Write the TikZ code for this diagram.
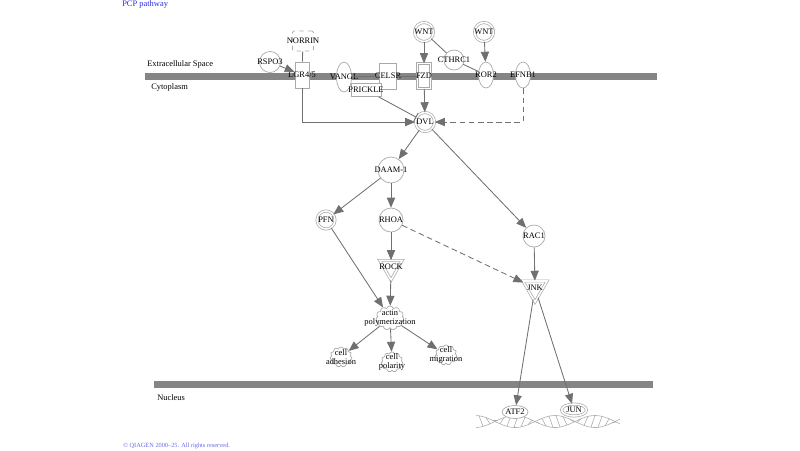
\documentclass[tikz,border=0pt]{standalone}
\usepackage{fontspec}
\setmainfont{Liberation Serif}
\usepackage{tikz}
\usetikzlibrary{shapes.geometric, shapes.symbols, arrows}

\definecolor{bargray}{HTML}{858585}
\definecolor{linegray}{HTML}{707070}
\definecolor{nodegray}{HTML}{AAAAAA}
\definecolor{ipablue}{HTML}{2828E6}

\tikzset{
  mol/.style={draw=nodegray, fill=white, inner sep=0pt, line width=0.5pt},
  dbl/.style={double=white, double distance=1.1pt},
  gene/.style={mol, circle},
  func/.style={mol, cloud, cloud puffs=11, aspect=1.1},
  downtri/.style={mol, dbl, regular polygon, regular polygon sides=3, shape border rotate=180},
  rel/.style={-, draw=linegray, line width=0.6pt},
  act/.style={->, draw=linegray, line width=0.6pt},
  inh/.style={-|, draw=linegray, line width=0.6pt},
  dsh/.style={dash pattern=on 4pt off 2.5pt},
  every label/.style={font=\fontsize{6}{6}\selectfont, inner sep=0pt, text=black, align=center},
  txt/.style={font=\fontsize{6}{6}\selectfont, inner sep=0pt, anchor=west}
}

\begin{document}
\begin{tikzpicture}[x=0.025cm, y=-0.025cm, >=triangle 45]
    \useasboundingbox (0,0) rectangle (800,450);

    % membranes
    \fill[bargray] (145,73) rectangle (657,80);
    \fill[bargray] (154,381) rectangle (653,388);
    \node[txt, text=ipablue] (title) at (122,4) {PCP pathway};
    \node[txt] (ecs) at (147,64) {Extracellular Space};
    \node[txt] (cyto) at (151,87) {Cytoplasm};
    \node[txt] (nuc) at (157,398) {Nucleus};
    \node[txt, text=ipablue!70, font=\fontsize{4.5}{5}\selectfont] (copy) at (123,446) {© QIAGEN 2000–25. All rights reserved.};

    % DNA
    \draw[nodegray, line width=0.4pt] plot[domain=476:620, samples=90] (\x, {421.5+6*sin(4.5*(\x-495))});
    \draw[nodegray, line width=0.4pt] plot[domain=476:620, samples=90] (\x, {421.5-6*sin(4.5*(\x-495))});
    \foreach \x in {479,486,...,615}
        \draw[nodegray, line width=0.4pt] (\x, {421.5+6*sin(4.5*(\x-495))}) -- (\x+4, {421.5-6*sin(4.5*(\x+4-495))});

    % molecules
    \node[gene, minimum size=5.25mm, label=center:RSPO3] (rspo) at (270,62) {};
    \node[mol, rectangle, rounded corners=1pt, dashed, minimum width=5.25mm, minimum height=5mm, label=center:NORRIN] (norrin) at (303,41) {};
    \node[mol, rectangle, minimum width=3.5mm, minimum height=6.5mm, label=center:LGR4/5] (lgr) at (302,75) {};
    \node[mol, ellipse, minimum width=3.75mm, minimum height=7.5mm, label=center:VANGL] (vangl) at (344,77) {};
    \node[mol, rectangle, minimum width=4.25mm, minimum height=6.5mm, label=center:CELSR] (celsr) at (388,76) {};
    \node[mol, rectangle, minimum width=7.5mm, minimum height=3.25mm, label=center:PRICKLE] (prickle) at (366,90) {};
    \node[mol, dbl, rectangle, minimum width=3.25mm, minimum height=6.25mm, label=center:FZD] (fzd) at (424,76) {};
    \node[gene, dbl, minimum size=4.75mm, label=center:WNT] (wnta) at (424,32) {};
    \node[gene, minimum size=5mm, label=center:CTHRC1] (cthrc) at (454,60) {};
    \node[gene, dbl, minimum size=4.75mm, label=center:WNT] (wntb) at (484,32) {};
    \node[mol, ellipse, minimum width=3.75mm, minimum height=6.5mm, label=center:ROR2] (ror) at (486,75) {};
    \node[mol, ellipse, minimum width=3.75mm, minimum height=6.5mm, label=center:EFNB1] (efnb) at (523,75) {};
    \node[gene, dbl, minimum size=4.75mm, label=center:DVL] (dvl) at (425,122) {};
    \node[gene, minimum size=6.5mm, label=center:DAAM-1] (daam) at (391,170) {};
    \node[gene, dbl, minimum size=4.5mm, label=center:PFN] (pfn) at (326,220) {};
    \node[gene, minimum size=6mm, label=center:RHOA] (rhoa) at (391,220) {};
    \node[gene, minimum size=5.5mm, label=center:RAC1] (rac) at (534,236) {};
    \node[downtri, minimum size=6.5mm, label=center:ROCK] (rock) at (391,267) {};
    \node[downtri, minimum size=7mm, label=center:JNK] (jnk) at (535,288) {};
    \node[func, minimum width=7mm, minimum height=6mm, label={center:actin\\polymerization}] (actin) at (390,318) {};
    \node[func, minimum width=5.5mm, minimum height=5mm, label={center:cell\\adhesion}] (adh) at (341,357) {};
    \node[func, minimum width=5.5mm, minimum height=5mm, label={center:cell\\polarity}] (pol) at (392,362) {};
    \node[func, minimum width=5.5mm, minimum height=5mm, label={center:cell\\migration}] (mig) at (446,355) {};
    \node[mol, ellipse, minimum width=6.5mm, minimum height=3.25mm, label=center:ATF2] (atf) at (515,412) {};
    \node[mol, dbl, ellipse, minimum width=6.25mm, minimum height=3mm, label=center:JUN] (jun) at (574,410) {};

    % relations
    \draw[act] (wnta) -- (fzd);
    \draw[rel] (wnta) -- (cthrc);
    \draw[rel] (cthrc) -- (ror);
    \draw[act] (wntb) -- (ror);
    \draw[act] (rspo) -- (lgr);
    \draw[rel] (norrin) -- (lgr);
    \draw[rel] (vangl) -- (celsr);
    \draw[rel] (celsr) -- (fzd);
    \draw[act] (fzd) -- (dvl);
    \draw[act] (lgr) |- (dvl);
    \draw[inh] (prickle) -- (dvl);
    \draw[act, dsh] (efnb) |- (dvl);
    \draw[act] (dvl) -- (daam);
    \draw[act] (dvl) -- (rac);
    \draw[act] (daam) -- (pfn);
    \draw[act] (daam) -- (rhoa);
    \draw[act] (rhoa) -- (rock);
    \draw[act, dsh] (rhoa) -- (jnk);
    \draw[act] (pfn) -- (actin);
    \draw[act] (rock) -- (actin);
    \draw[act] (actin) -- (adh);
    \draw[act] (actin) -- (pol);
    \draw[act] (actin) -- (mig);
    \draw[act] (rac) -- (jnk);
    \draw[act] (jnk) -- (atf);
    \draw[act] (jnk) -- (jun);
\end{tikzpicture}
\end{document}
